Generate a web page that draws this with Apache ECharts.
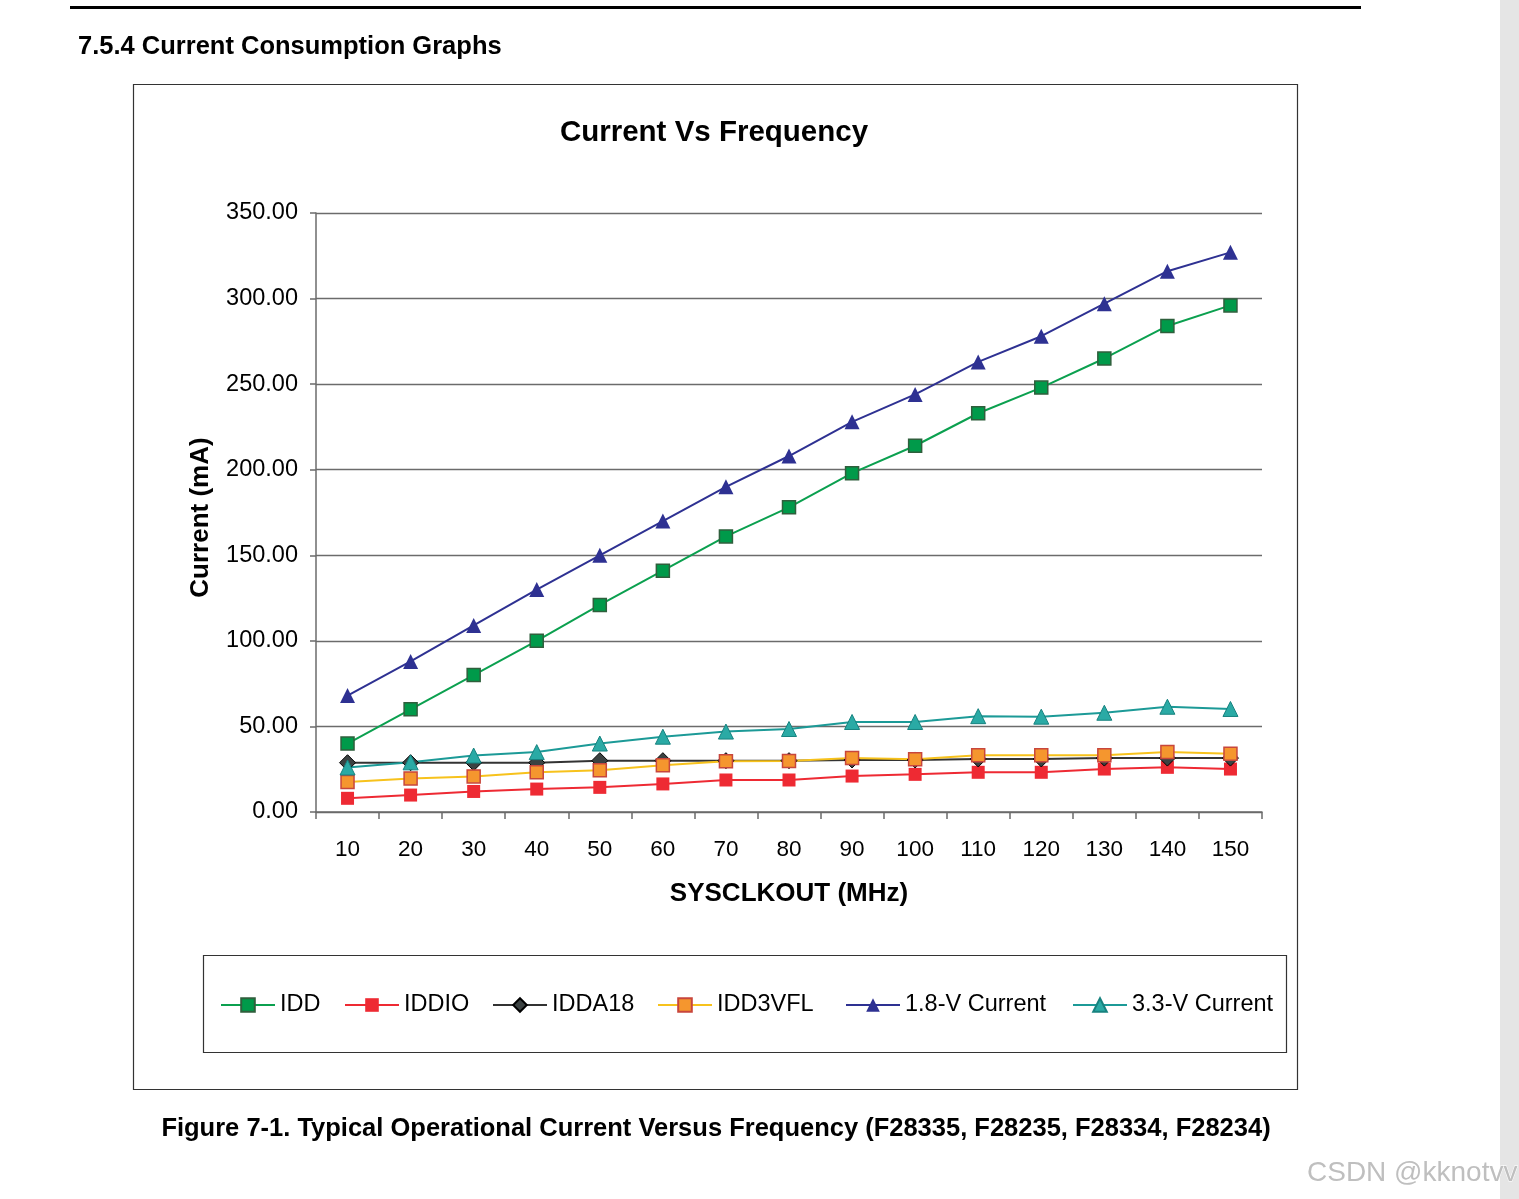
<!DOCTYPE html>
<html>
<head>
<meta charset="utf-8">
<script src="https://cdn.jsdelivr.net/npm/echarts@6/dist/echarts.min.js"></script>
<style>
html,body{margin:0;padding:0;background:#fff;}
#c{width:1519px;height:1199px;}
</style>
</head>
<body>
<div id="c"></div>
<script>
var categories = ['10','20','30','40','50','60','70','80','90','100','110','120','130','140','150'];
var yTicks = [0, 50, 100, 150, 200, 250, 300, 350];
var idd     = [40, 60, 80, 100, 121, 141, 161, 178, 198, 214, 233, 248, 265, 284, 296];
var iddio   = [8, 9.9, 12, 13.4, 14.4, 16.4, 18.7, 18.7, 21, 22, 23.2, 23.2, 25.1, 26.1, 25.1];
var idda18  = [28.8, 28.8, 28.8, 28.8, 30, 30, 30, 30, 30.4, 30.4, 31, 31, 31.5, 31.5, 31.5];
var idd3vfl = [17.6, 19.6, 20.8, 23.2, 24.4, 27.3, 29.6, 29.8, 31.6, 30.8, 33.1, 33.1, 33.1, 35, 34];
var v18     = [68, 88, 109, 130, 150, 170, 190, 208, 228, 244, 263, 278, 297, 316, 327];
var v33     = [26, 29, 33, 35, 40, 44, 47, 48.5, 52.6, 52.6, 56, 55.7, 58, 61.5, 60.2];
var seriesNames = ['IDD', 'IDDIO', 'IDDA18', 'IDD3VFL', '1.8-V Current', '3.3-V Current'];

var FONT = '"Liberation Sans", Arial, sans-serif';
var chart = echarts.init(document.getElementById('c'), null, {renderer: 'canvas'});

function ser(name, data, lineColor, symbol, size, fill, border, bw) {
  return {
    name: name, type: 'line', data: data,
    symbol: symbol, symbolSize: size, showSymbol: true,
    lineStyle: {color: lineColor, width: 2},
    itemStyle: {color: fill, borderColor: border, borderWidth: bw},
    emphasis: {disabled: true},
    animation: false, z: 3
  };
}

var legendLefts = [220, 344, 492, 657, 845, 1072];
var legends = seriesNames.map(function (n, i) {
  return {
    left: legendLefts[i], top: 993, padding: 0, orient: 'horizontal',
    itemWidth: 54, itemHeight: 17,
    textStyle: {fontFamily: FONT, fontSize: 23.5, color: '#000'},
    data: [n]
  };
});

chart.setOption({
  animation: false,
  backgroundColor: '#fff',
  textStyle: {fontFamily: FONT},
  grid: {left: 316, top: 213, width: 946, height: 599, containLabel: false},
  xAxis: {
    type: 'category', data: categories, boundaryGap: true,
    name: 'SYSCLKOUT (MHz)', nameLocation: 'middle', nameGap: 69,
    nameTextStyle: {fontFamily: FONT, fontSize: 26, fontWeight: 'bold', color: '#000'},
    axisLine: {lineStyle: {color: '#6b6b6b', width: 1.5}},
    axisTick: {show: true, alignWithLabel: false, length: 7, lineStyle: {color: '#6b6b6b', width: 1.5}},
    axisLabel: {fontFamily: FONT, fontSize: 22.5, color: '#000', margin: 26},
    splitLine: {show: false}
  },
  yAxis: {
    type: 'value', min: 0, max: 350, interval: 50,
    name: 'Current (mA)', nameLocation: 'middle', nameGap: 102,
    nameTextStyle: {fontFamily: FONT, fontSize: 26, fontWeight: 'bold', color: '#000', padding: [0, 10, 0, 0]},
    axisLine: {show: true, lineStyle: {color: '#6b6b6b', width: 1.5}},
    axisTick: {show: true, length: 6, lineStyle: {color: '#6b6b6b', width: 1.5}},
    axisLabel: {fontFamily: FONT, fontSize: 23.5, color: '#000', margin: 18, padding: [5, 0, 0, 0],
      formatter: function (v) { return yTicks.indexOf(v) >= 0 ? v.toFixed(2) : ''; }},
    splitLine: {show: true, lineStyle: {color: '#6b6b6b', width: 1.3}}
  },
  legend: legends,
  series: [
    ser('IDD', idd, '#0ba04f', 'rect', 13, '#009a4a', '#2f5f3c', 1.5),
    ser('IDDIO', iddio, '#ee2a33', 'rect', 13, '#ee2a33', '#ee2a33', 0),
    ser('IDDA18', idda18, '#333333', 'diamond', 16, '#3b4242', '#000', 1),
    ser('IDD3VFL', idd3vfl, '#f7c21c', 'rect', 13, '#f5962e', '#c8463c', 1.5),
    ser('1.8-V Current', v18, '#2e3192', 'triangle', 15, '#2e3192', '#2e3192', 0),
    ser('3.3-V Current', v33, '#1c9a97', 'triangle', 15, '#2aaaa5', '#17827f', 1)
  ],
  graphic: [
    {type: 'rect', shape: {x: 70, y: 6, width: 1291, height: 3}, style: {fill: '#000'}, silent: true},
    {type: 'rect', shape: {x: 1500, y: 0, width: 19, height: 1199}, style: {fill: '#e5e5e5'}, silent: true},
    {type: 'text', x: 78, y: 47, style: {text: '7.5.4 Current Consumption Graphs', font: 'bold 25.5px ' + FONT, fill: '#000', textAlign: 'left', textVerticalAlign: 'middle'}},
    {type: 'rect', shape: {x: 133.5, y: 84.5, width: 1164, height: 1005}, style: {fill: 'none', stroke: '#333', lineWidth: 1.2}, silent: true, z: -1},
    {type: 'rect', shape: {x: 203.5, y: 955.5, width: 1083, height: 97}, style: {fill: 'none', stroke: '#333', lineWidth: 1.2}, silent: true, z: -1},
    {type: 'text', x: 714, y: 133, style: {text: 'Current Vs Frequency', font: 'bold 29.5px ' + FONT, fill: '#000', textAlign: 'center', textVerticalAlign: 'middle'}},
    {type: 'text', x: 716, y: 1129, style: {text: 'Figure 7-1. Typical Operational Current Versus Frequency (F28335, F28235, F28334, F28234)', font: 'bold 25.5px ' + FONT, fill: '#000', textAlign: 'center', textVerticalAlign: 'middle'}},
    {type: 'text', x: 1307, y: 1173, z: 10, style: {text: 'CSDN @kknotvv', font: '28px ' + FONT, fill: '#bfbfbf', stroke: '#ffffff', lineWidth: 1, textAlign: 'left', textVerticalAlign: 'middle'}}
  ]
});
</script>
</body>
</html>
